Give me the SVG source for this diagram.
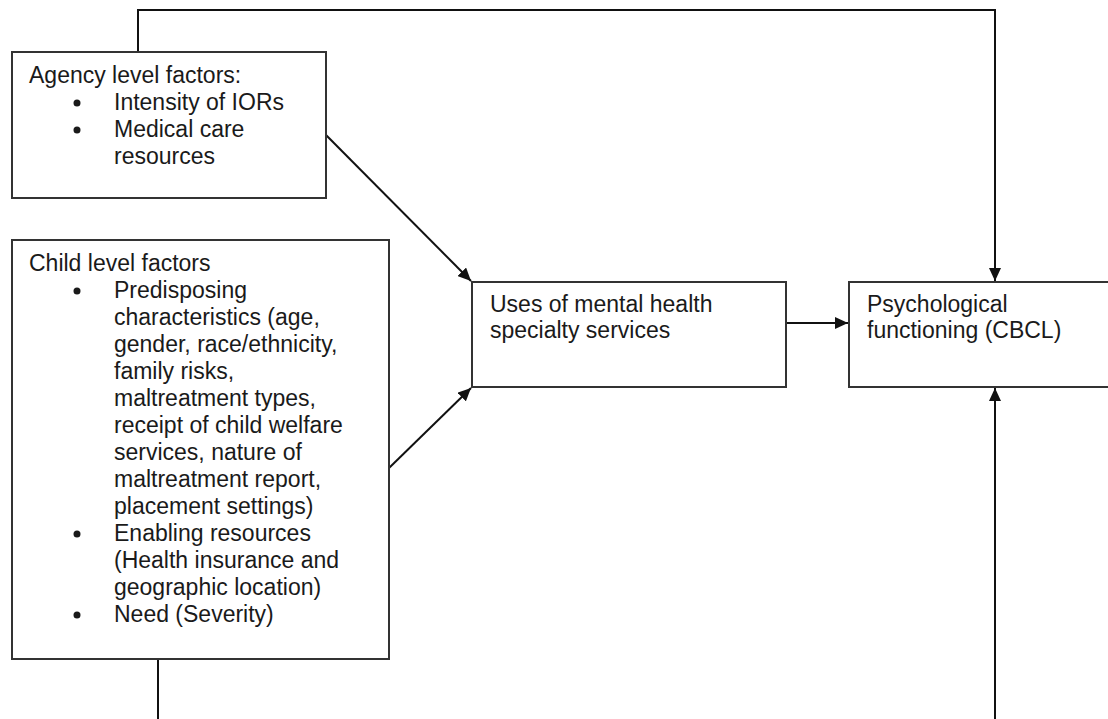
<svg xmlns="http://www.w3.org/2000/svg" width="1108" height="719" viewBox="0 0 1108 719">
<style>
.box{fill:#fff;stroke:#333;stroke-width:2}
.t{font-family:"Liberation Sans",Arial,sans-serif;font-size:23px;fill:#1a1a1a}
.c{fill:none;stroke:#111;stroke-width:2}
</style>
<defs>
<marker id="ah" viewBox="0 0 13 12" refX="13" refY="6" markerWidth="13" markerHeight="12" markerUnits="userSpaceOnUse" orient="auto">
<path d="M0,0 L13,6 L0,12 Z" fill="#111"/>
</marker>
</defs>
<rect width="1108" height="719" fill="#fff"/>
<g id="connectors">
<polyline class="c" points="138,52 138,10 995,10 995,281" marker-end="url(#ah)"/>
<line class="c" x1="326" y1="135" x2="471" y2="281" marker-end="url(#ah)"/>
<line class="c" x1="389" y1="468" x2="471" y2="388" marker-end="url(#ah)"/>
<line class="c" x1="786" y1="323" x2="848" y2="323" marker-end="url(#ah)"/>
<line class="c" x1="158" y1="659" x2="158" y2="719"/>
<line class="c" x1="995" y1="719" x2="995" y2="388" marker-end="url(#ah)"/>
</g>
<g id="agency">
<rect class="box" x="12" y="52" width="314" height="146"/>
<text class="t" x="29" y="83">Agency level factors:</text>
<circle cx="77" cy="103" r="3.5" fill="#1a1a1a"/>
<text class="t" x="114" y="110">Intensity of IORs</text>
<circle cx="77" cy="130" r="3.5" fill="#1a1a1a"/>
<text class="t" x="114" y="137">Medical care</text>
<text class="t" x="114" y="164">resources</text>
</g>
<g id="child">
<rect class="box" x="12" y="240" width="377" height="419"/>
<text class="t" x="29" y="271">Child level factors</text>
<circle cx="77" cy="291" r="3.5" fill="#1a1a1a"/>
<text class="t" x="114" y="298">Predisposing</text>
<text class="t" x="114" y="325">characteristics (age,</text>
<text class="t" x="114" y="352">gender, race/ethnicity,</text>
<text class="t" x="114" y="379">family risks,</text>
<text class="t" x="114" y="406">maltreatment types,</text>
<text class="t" x="114" y="433">receipt of child welfare</text>
<text class="t" x="114" y="460">services, nature of</text>
<text class="t" x="114" y="487">maltreatment report,</text>
<text class="t" x="114" y="514">placement settings)</text>
<circle cx="77" cy="534" r="3.5" fill="#1a1a1a"/>
<text class="t" x="114" y="541">Enabling resources</text>
<text class="t" x="114" y="568">(Health insurance and</text>
<text class="t" x="114" y="595">geographic location)</text>
<circle cx="77" cy="615" r="3.5" fill="#1a1a1a"/>
<text class="t" x="114" y="622">Need (Severity)</text>
</g>
<g id="uses">
<rect class="box" x="472" y="282" width="314" height="105"/>
<text class="t" x="490" y="312">Uses of mental health</text>
<text class="t" x="490" y="338">specialty services</text>
</g>
<g id="psych">
<rect class="box" x="849" y="282" width="270" height="105"/>
<text class="t" x="867" y="312">Psychological</text>
<text class="t" x="867" y="338">functioning (CBCL)</text>
</g>
</svg>
